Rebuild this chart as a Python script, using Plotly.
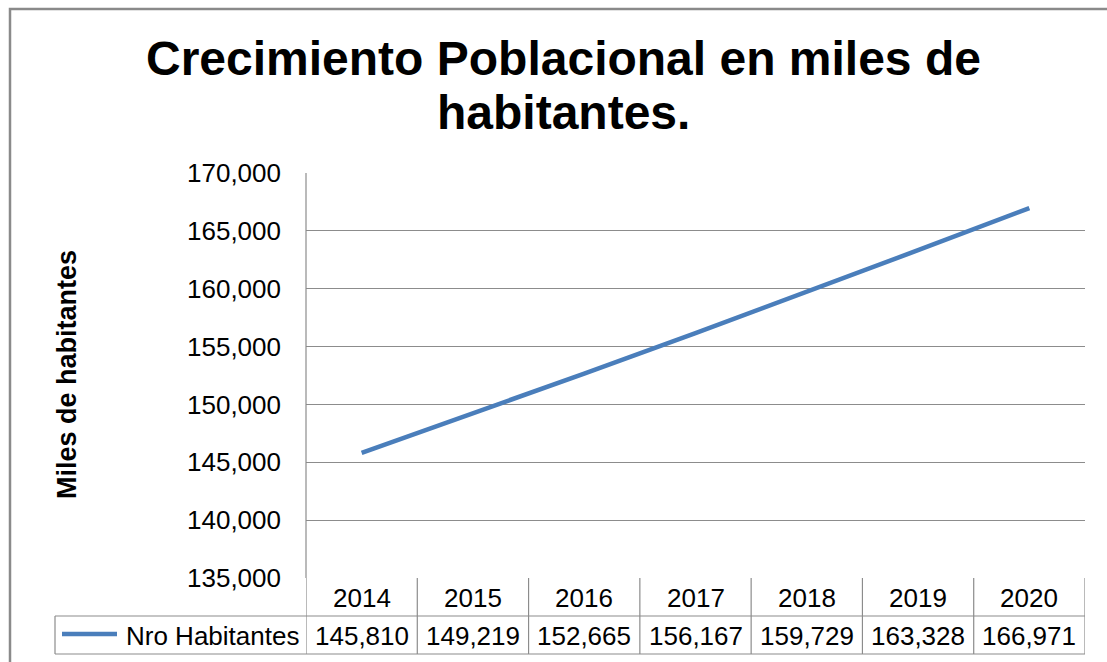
import plotly.graph_objects as go

years = ["2014", "2015", "2016", "2017", "2018", "2019", "2020"]
habitantes = [145810, 149219, 152665, 156167, 159729, 163328, 166971]
series_name = "Nro Habitantes"
title_lines = ["Crecimiento Poblacional en miles de", "habitantes."]
y_title = "Miles de habitantes"
y_ticks = [135000, 140000, 145000, 150000, 155000, 160000, 165000, 170000]

W, H = 1107, 662
L, R, T, B = 306, 1085, 173, 578
pw, ph = R - L, B - T
LINE_COLOR = "#4A7EBB"
GRID = "#8C8C8C"
FONT = "Liberation Sans, Arial, sans-serif"
FS = 26

xs = list(range(len(years)))

fig = go.Figure()
fig.add_trace(go.Scatter(x=xs, y=habitantes, mode="lines", name=series_name,
                         line=dict(color=LINE_COLOR, width=4.5), showlegend=False))

def fx(xp):
    return (xp - L) / pw

def fy(yp):
    return (B - yp) / ph

shapes = []
shapes.append(dict(type="rect", xref="paper", yref="paper",
                   x0=fx(10), x1=fx(1130), y0=fy(700), y1=fy(9),
                   line=dict(color="#8A8A8A", width=2.5), fillcolor="rgba(0,0,0,0)", layer="below"))
shapes.append(dict(type="line", xref="paper", yref="paper", x0=0, x1=0, y0=0, y1=1,
                   line=dict(color=GRID, width=1.2)))

row1_bot = fy(616)
row2_bot = fy(654)
for i in range(len(years) + 1):
    shapes.append(dict(type="line", xref="x", yref="paper", x0=i - 0.5, x1=i - 0.5,
                       y0=row2_bot, y1=0, line=dict(color=GRID, width=1.2)))
for yy in (row1_bot, row2_bot):
    shapes.append(dict(type="line", xref="paper", yref="paper", x0=fx(55), x1=1,
                       y0=yy, y1=yy, line=dict(color=GRID, width=1.2)))
shapes.append(dict(type="line", xref="paper", yref="paper", x0=fx(55), x1=fx(55),
                   y0=row2_bot, y1=row1_bot, line=dict(color=GRID, width=1.2)))
ky = fy(634)
shapes.append(dict(type="line", xref="paper", yref="paper", x0=fx(62), x1=fx(117),
                   y0=ky, y1=ky, line=dict(color=LINE_COLOR, width=4.5)))

annotations = []
hy = fy(598)
vy = fy(636)
for i, (yr, v) in enumerate(zip(years, habitantes)):
    annotations.append(dict(x=i, y=hy, xref="x", yref="paper", text=yr, showarrow=False,
                            font=dict(size=FS, color="black", family=FONT), yanchor="middle"))
    annotations.append(dict(x=i, y=vy, xref="x", yref="paper", text=f"{v:,}", showarrow=False,
                            font=dict(size=FS, color="black", family=FONT), yanchor="middle"))
annotations.append(dict(x=fx(301), y=vy, xref="paper", yref="paper", text=series_name,
                        showarrow=False, xanchor="right", yanchor="middle",
                        font=dict(size=FS, color="black", family=FONT)))
for txt, cy in zip(title_lines, (58, 112)):
    annotations.append(dict(x=fx(563), y=fy(cy), xref="paper", yref="paper",
                            text="<b>" + txt + "</b>", showarrow=False,
                            xanchor="center", yanchor="middle",
                            font=dict(size=48, color="black", family=FONT)))
annotations.append(dict(x=fx(67), y=fy(375), xref="paper", yref="paper",
                        text="<b>" + y_title + "</b>", showarrow=False, textangle=-90,
                        xanchor="center", yanchor="middle",
                        font=dict(size=27, color="black", family=FONT)))

fig.update_layout(
    width=W, height=H,
    margin=dict(l=L, r=W - R, t=T, b=H - B),
    paper_bgcolor="white", plot_bgcolor="white",
    xaxis=dict(range=[-0.5, len(years) - 0.5], showgrid=False, zeroline=False,
               showticklabels=False, showline=False, fixedrange=True),
    yaxis=dict(range=[135000, 170000], tickvals=y_ticks, tickformat=",d",
               showgrid=True, gridcolor=GRID, gridwidth=1.2, zeroline=False,
               showline=False, ticks="", ticklabelstandoff=24,
               tickfont=dict(size=FS, color="black", family=FONT)),
    shapes=shapes, annotations=annotations,
)
fig.write_html("out.html", config={"displayModeBar": False},
               post_script="document.body.style.margin='0';")
